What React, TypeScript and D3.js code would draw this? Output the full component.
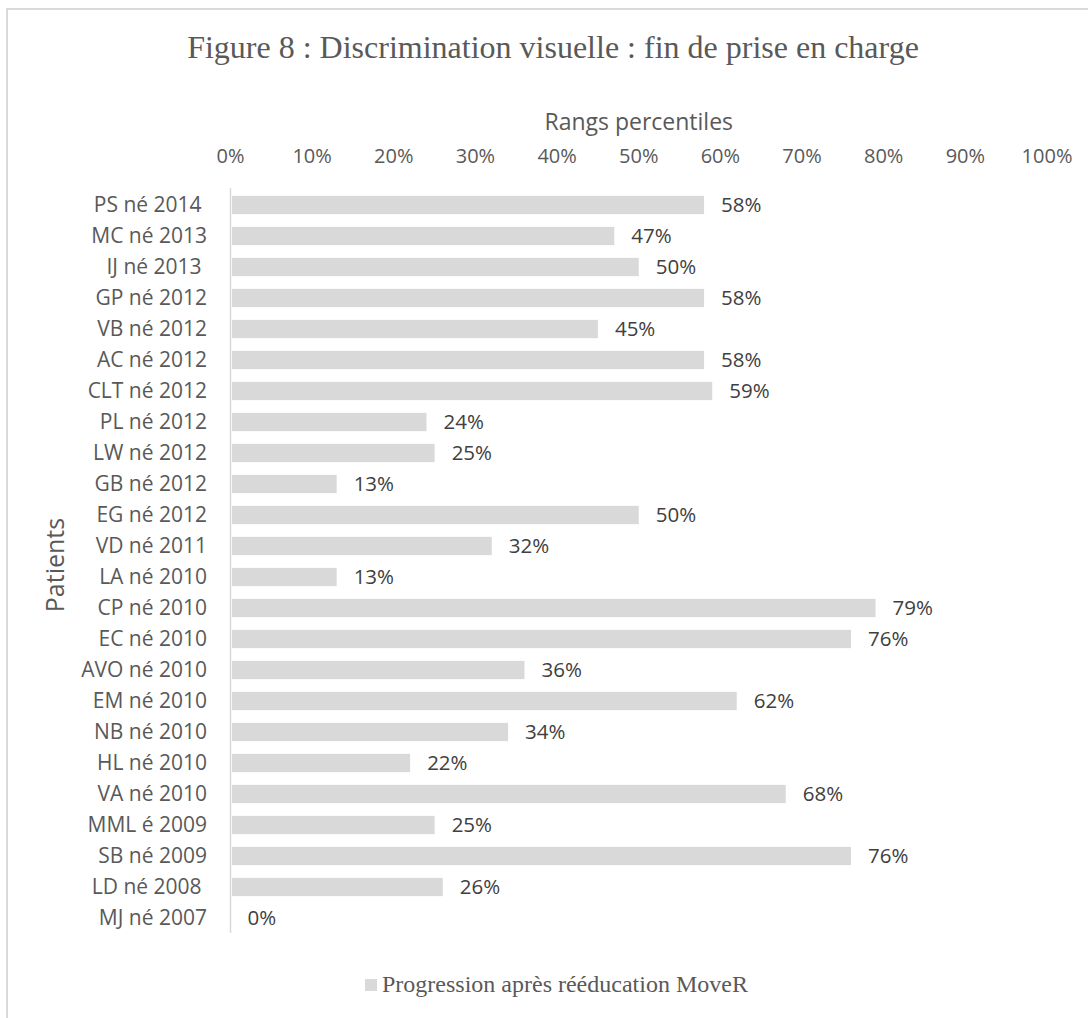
import React from "react";
import * as d3 from "d3";

const categories = [
  "PS né 2014 ", "MC né 2013", "IJ né 2013 ", "GP né 2012", "VB né 2012", "AC né 2012",
  "CLT né 2012", "PL né 2012", "LW né 2012", "GB né 2012", "EG né 2012", "VD né 2011",
  "LA né 2010", "CP né 2010", "EC né 2010", "AVO né 2010", "EM né 2010", "NB né 2010",
  "HL né 2010", "VA né 2010", "MML é 2009", "SB né 2009", "LD né 2008 ", "MJ né 2007",
];
const values = [58, 47, 50, 58, 45, 58, 59, 24, 25, 13, 50, 32, 13, 79, 76, 36, 62, 34, 22, 68, 25, 76, 26, 0];
const xTicks = [0, 10, 20, 30, 40, 50, 60, 70, 80, 90, 100];
const title = "Figure 8 : Discrimination visuelle : fin de prise en charge";
const xTitle = "Rangs percentiles";
const yTitle = "Patients";
const seriesName = "Progression après rééducation MoveR";

const W = 1088;
const H = 1018;
const sans = "'Open Sans', 'Noto Sans', sans-serif";
const serif = "'Liberation Serif', 'Times New Roman', serif";

export default function App() {
  const x = d3.scaleLinear().domain([0, 100]).range([230.5, 1047]);
  const y = d3.scaleBand<string>().domain(categories).range([189.5, 933.5]).paddingInner(0.41).paddingOuter(0.205);
  const bw = y.bandwidth();

  return (
    <div style={{ position: "absolute", left: 0, top: 0 }}>
      <svg width={W} height={H} style={{ display: "block", background: "#fff" }}>
        <rect x={7} y={9} width={W + 20} height={H + 20} fill="#fff" stroke="#d9d9d9" strokeWidth={2} />
        <text x={553} y={58} textAnchor="middle" fontFamily={serif} fontSize={32} fill="#595959">{title}</text>
        <text x={x(50)} y={130} textAnchor="middle" fontFamily={sans} fontSize={23} fill="#595959">{xTitle}</text>
        {xTicks.map((t) => (
          <text key={t} x={x(t)} y={163} textAnchor="middle" fontFamily={sans} fontSize={20} fill="#595959">{t + "%"}</text>
        ))}
        <text transform={`translate(64,565) rotate(-90)`} textAnchor="middle" fontFamily={sans} fontSize={25} fill="#595959">{yTitle}</text>
        {categories.map((c, i) => (
          <g key={c}>
            <rect x={x(0) + 1.5} y={y(c)!} width={Math.max(0, x(values[i]) - x(0) - 1.5)} height={bw} fill="#d9d9d9" />
            <text x={207} y={y(c)! + bw / 2} dy="0.35em" textAnchor="end" fontFamily={sans} fontSize={21} fill="#595959" style={{ whiteSpace: "pre" }}>{c}</text>
            <text x={x(values[i]) + 17} y={y(c)! + bw / 2} dy="0.36em" fontFamily={sans} fontSize={20.5} fill="#404040">{values[i] + "%"}</text>
          </g>
        ))}
        <line x1={x(0)} x2={x(0)} y1={188} y2={933} stroke="#d9d9d9" strokeWidth={1.5} />
        <rect x={365} y={979} width={12} height={12} fill="#d9d9d9" />
        <text x={382} y={992} fontFamily={serif} fontSize={24} fill="#595959">{seriesName}</text>
      </svg>
    </div>
  );
}
